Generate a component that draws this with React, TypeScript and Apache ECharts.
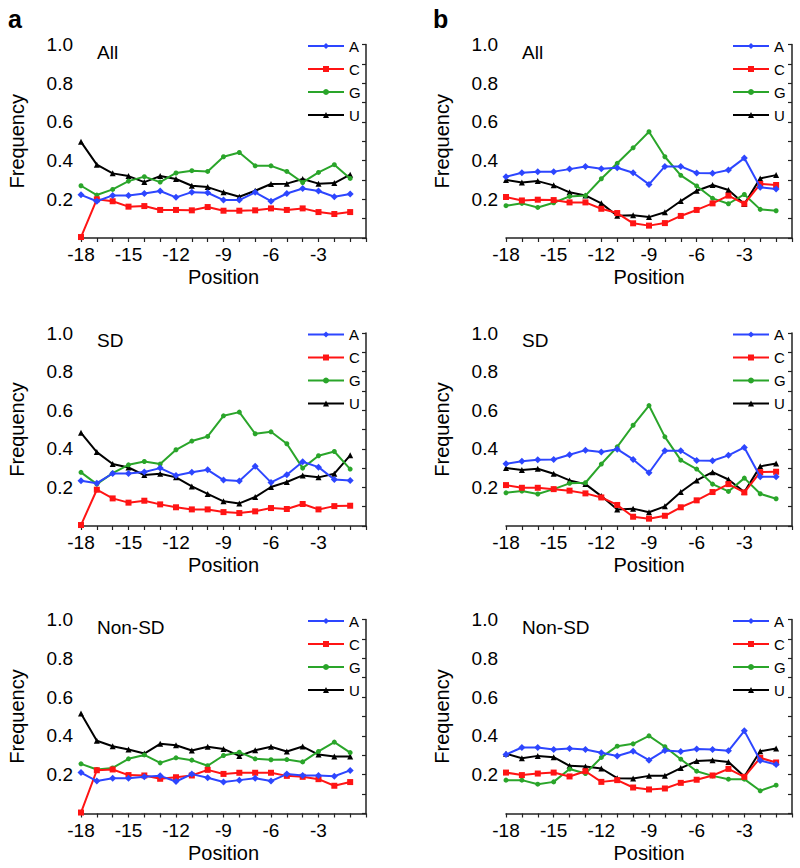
import React, { useEffect, useRef } from "react";
import * as echarts from "echarts";

const positions = [-18, -17, -16, -15, -14, -13, -12, -11, -10, -9, -8, -7, -6, -5, -4, -3, -2, -1];
const nucleotides = ["A", "C", "G", "U"];
const panelTitles = ["All", "SD", "Non-SD"];
const panelLetters = ["a", "b"];
const yTickLabels = ["0.2", "0.4", "0.6", "0.8", "1.0"];
const xTickLabels = ["-18", "-15", "-12", "-9", "-6", "-3"];

// Column a
const aAllA = [0.223, 0.19, 0.22, 0.22, 0.23, 0.243, 0.21, 0.237, 0.234, 0.196, 0.196, 0.236, 0.19, 0.23, 0.256, 0.243, 0.213, 0.227];
const aAllC = [0.005, 0.2, 0.19, 0.162, 0.165, 0.145, 0.145, 0.143, 0.16, 0.141, 0.141, 0.143, 0.153, 0.145, 0.153, 0.134, 0.124, 0.134];
const aAllG = [0.27, 0.222, 0.251, 0.294, 0.317, 0.289, 0.336, 0.348, 0.344, 0.42, 0.442, 0.373, 0.373, 0.344, 0.287, 0.339, 0.379, 0.308];
const aAllU = [0.497, 0.379, 0.334, 0.32, 0.289, 0.32, 0.305, 0.27, 0.263, 0.236, 0.213, 0.244, 0.279, 0.281, 0.305, 0.281, 0.284, 0.327];

const aSdA = [0.234, 0.222, 0.272, 0.272, 0.28, 0.3, 0.262, 0.278, 0.291, 0.238, 0.233, 0.309, 0.226, 0.266, 0.333, 0.305, 0.241, 0.236];
const aSdC = [0.005, 0.188, 0.143, 0.121, 0.131, 0.112, 0.097, 0.086, 0.086, 0.072, 0.067, 0.076, 0.093, 0.088, 0.114, 0.086, 0.103, 0.105];
const aSdG = [0.278, 0.217, 0.274, 0.317, 0.334, 0.321, 0.395, 0.44, 0.464, 0.571, 0.59, 0.478, 0.488, 0.426, 0.3, 0.364, 0.386, 0.295];
const aSdU = [0.483, 0.383, 0.321, 0.303, 0.264, 0.271, 0.252, 0.205, 0.166, 0.128, 0.117, 0.15, 0.202, 0.228, 0.262, 0.252, 0.271, 0.366];

const aNonA = [0.211, 0.167, 0.182, 0.182, 0.189, 0.194, 0.165, 0.203, 0.184, 0.162, 0.172, 0.182, 0.167, 0.203, 0.196, 0.196, 0.192, 0.222];
const aNonC = [0.005, 0.223, 0.227, 0.198, 0.196, 0.179, 0.187, 0.196, 0.225, 0.204, 0.21, 0.21, 0.21, 0.194, 0.189, 0.177, 0.143, 0.162];
const aNonG = [0.256, 0.227, 0.235, 0.282, 0.302, 0.261, 0.287, 0.275, 0.246, 0.299, 0.316, 0.282, 0.277, 0.278, 0.266, 0.32, 0.368, 0.314];
const aNonU = [0.515, 0.375, 0.347, 0.33, 0.309, 0.359, 0.352, 0.325, 0.344, 0.333, 0.297, 0.326, 0.344, 0.32, 0.345, 0.304, 0.294, 0.294];

// Column b
const bAllA = [0.317, 0.337, 0.343, 0.343, 0.356, 0.37, 0.358, 0.363, 0.337, 0.277, 0.37, 0.37, 0.336, 0.334, 0.351, 0.413, 0.262, 0.253];
const bAllC = [0.212, 0.194, 0.198, 0.196, 0.184, 0.184, 0.151, 0.129, 0.076, 0.064, 0.077, 0.114, 0.145, 0.179, 0.219, 0.177, 0.279, 0.274];
const bAllG = [0.167, 0.179, 0.158, 0.182, 0.215, 0.219, 0.306, 0.386, 0.466, 0.549, 0.42, 0.324, 0.269, 0.205, 0.177, 0.225, 0.148, 0.141];
const bAllU = [0.3, 0.287, 0.294, 0.272, 0.236, 0.22, 0.179, 0.115, 0.117, 0.108, 0.133, 0.191, 0.244, 0.274, 0.248, 0.176, 0.308, 0.325];

const bSdA = [0.322, 0.336, 0.343, 0.345, 0.369, 0.393, 0.383, 0.398, 0.345, 0.276, 0.39, 0.39, 0.34, 0.338, 0.366, 0.407, 0.255, 0.255];
const bSdC = [0.212, 0.198, 0.198, 0.191, 0.183, 0.169, 0.148, 0.109, 0.048, 0.038, 0.053, 0.097, 0.133, 0.176, 0.217, 0.174, 0.279, 0.281];
const bSdG = [0.172, 0.181, 0.166, 0.191, 0.221, 0.224, 0.321, 0.41, 0.522, 0.624, 0.462, 0.341, 0.295, 0.217, 0.179, 0.248, 0.167, 0.141];
const bSdU = [0.3, 0.29, 0.297, 0.271, 0.236, 0.217, 0.155, 0.086, 0.09, 0.071, 0.102, 0.176, 0.236, 0.279, 0.241, 0.176, 0.309, 0.324];

const bNonA = [0.304, 0.34, 0.34, 0.33, 0.335, 0.33, 0.313, 0.296, 0.321, 0.275, 0.325, 0.32, 0.332, 0.33, 0.323, 0.426, 0.273, 0.253];
const bNonC = [0.211, 0.198, 0.206, 0.211, 0.191, 0.218, 0.163, 0.172, 0.134, 0.124, 0.129, 0.158, 0.174, 0.196, 0.23, 0.189, 0.287, 0.263];
const bNonG = [0.172, 0.172, 0.151, 0.163, 0.229, 0.206, 0.289, 0.347, 0.359, 0.4, 0.344, 0.28, 0.218, 0.194, 0.177, 0.177, 0.117, 0.146];
const bNonU = [0.308, 0.285, 0.297, 0.29, 0.246, 0.242, 0.232, 0.182, 0.18, 0.194, 0.194, 0.234, 0.27, 0.275, 0.266, 0.191, 0.321, 0.335];

const panelData = [
  [[aAllA, aAllC, aAllG, aAllU], [aSdA, aSdC, aSdG, aSdU], [aNonA, aNonC, aNonG, aNonU]],
  [[bAllA, bAllC, bAllG, bAllU], [bSdA, bSdC, bSdG, bSdU], [bNonA, bNonC, bNonG, bNonU]],
];

const seriesColors = ["#2d46ff", "#ff1414", "#2aa52a", "#000000"];
const seriesSymbols = ["diamond", "rect", "circle", "triangle"];
const seriesSymbolSizes = [7, 6, 5, 6];

const COLS = [
  { left: 81, width: 285 },
  { left: 506, width: 286 },
];
const ROWS = [
  { top: 44.5, height: 193.5 },
  { top: 333, height: 193 },
  { top: 619.5, height: 194 },
];

const FONT = "Liberation Sans, Arial, sans-serif";

export default function App() {
  const ref = useRef<HTMLDivElement>(null);
  useEffect(() => {
    if (!ref.current) return;
    const chart = echarts.init(ref.current, null, { renderer: "svg" });
    const grid: any[] = [];
    const xAxis: any[] = [];
    const yAxis: any[] = [];
    const series: any[] = [];
    const legend: any[] = [];
    const graphic: any[] = [];
    let idx = 0;
    for (let c = 0; c < 2; c++) {
      graphic.push({
        type: "text",
        left: c === 0 ? 8 : 433,
        top: 6,
        style: { text: panelLetters[c], font: `bold 25px ${FONT}`, fill: "#000" },
      });
      for (let r = 0; r < 3; r++) {
        const col = COLS[c];
        const row = ROWS[r];
        grid.push({ left: col.left, top: row.top, width: col.width, height: row.height, containLabel: false });
        xAxis.push({
          type: "value",
          gridIndex: idx,
          min: -18,
          max: 0,
          interval: 1,
          name: "Position",
          nameLocation: "middle",
          nameGap: 29,
          nameTextStyle: { fontSize: 20, color: "#000", fontFamily: FONT },
          axisLine: { onZero: false, lineStyle: { color: "#222", width: 1.5 } },
          axisTick: { length: 4, lineStyle: { color: "#222", width: 1.2 } },
          axisLabel: {
            fontSize: 19,
            color: "#000",
            fontFamily: FONT,
            margin: 7,
            formatter: (v: number) => {
              const s = String(v);
              return xTickLabels.includes(s) ? s : "";
            },
          },
          splitLine: { show: false },
        });
        yAxis.push({
          type: "value",
          gridIndex: idx,
          min: 0,
          max: 1,
          interval: 0.1,
          name: "Frequency",
          nameLocation: "middle",
          nameGap: 54,
          nameTextStyle: { fontSize: 20, color: "#000", fontFamily: FONT },
          axisLine: { show: true, lineStyle: { color: "#222", width: 1.5 } },
          axisTick: { show: true, length: 4, lineStyle: { color: "#222", width: 1.2 } },
          axisLabel: {
            fontSize: 19,
            color: "#000",
            fontFamily: FONT,
            margin: 8,
            formatter: (v: number) => {
              const s = v.toFixed(1);
              return yTickLabels.includes(s) ? s : "";
            },
          },
          splitLine: { show: false },
        });
        graphic.push({
          type: "text",
          left: col.left + 16,
          top: row.top - 2,
          style: { text: panelTitles[r], font: `19px ${FONT}`, fill: "#000" },
        });
        legend.push({
          orient: "vertical",
          left: col.left + 226,
          top: row.top - 6,
          padding: 0,
          itemWidth: 36,
          itemHeight: 7.5,
          itemGap: 8,
          data: nucleotides,
          textStyle: { fontSize: 15, color: "#000", fontFamily: FONT },
        });
        const data = panelData[c][r];
        for (let s = 0; s < 4; s++) {
          series.push({
            type: "line",
            name: nucleotides[s],
            xAxisIndex: idx,
            yAxisIndex: idx,
            data: positions.map((p, i) => [p, data[s][i]]),
            symbol: seriesSymbols[s],
            symbolSize: seriesSymbolSizes[s],
            showSymbol: true,
            color: seriesColors[s],
            lineStyle: { width: 2, color: seriesColors[s] },
            itemStyle: { color: seriesColors[s] },
            z: s === 0 ? 5 : 4 - s,
          });
        }
        idx++;
      }
    }
    chart.setOption({
      animation: false,
      backgroundColor: "#fff",
      grid,
      xAxis,
      yAxis,
      series,
      legend,
      graphic,
    });
    return () => chart.dispose();
  }, []);
  return <div ref={ref} style={{ position: "fixed", left: 0, top: 0, width: 800, height: 868 }} />;
}
